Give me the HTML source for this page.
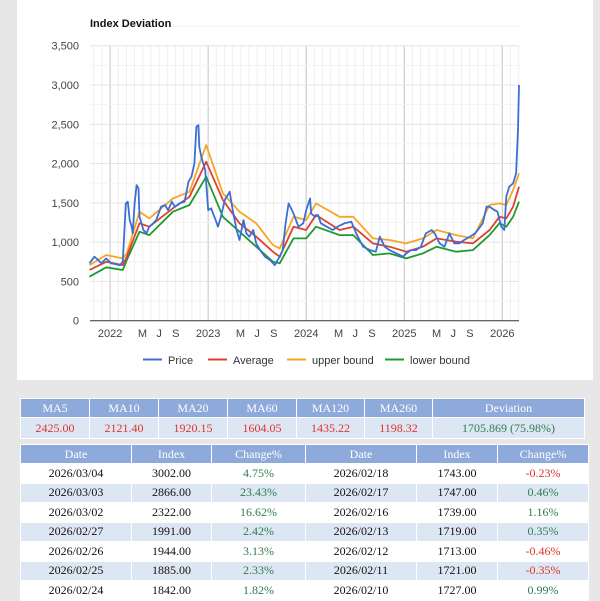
<!DOCTYPE html>
<html><head><meta charset="utf-8">
<style>
body{margin:0;width:600px;height:600px;background:#e7e7e7;overflow:hidden;font-family:"Liberation Sans",sans-serif;position:relative}
#panel{position:absolute;left:17px;top:0;width:576px;height:380px;background:#fff}
svg{position:absolute;left:0;top:0}
table{position:absolute;border-collapse:collapse;font-family:"Liberation Serif",serif;font-size:12px;text-align:center;table-layout:fixed}
td,th{padding:0;border:1px solid #fff}
th{background:#8eaadb;color:#fff;font-weight:normal;height:18px}
.red{color:#e2332b}.grn{color:#2e7d4f}
#ma{left:20px;top:398px;width:565px;border:1px solid #c9d8ec}
#ma td{background:#dde7f3;height:20px}
#hist{left:20px;top:444px;width:569px}
#hist td{height:18.5px;color:#111}
#hist td.red{color:#e2332b}
#hist td.grn{color:#2e7d4f}
#hist tbody tr:nth-child(even) td{background:#dde7f3}
#hist tbody tr:nth-child(odd) td{background:#fff}
</style></head><body>
<div id="panel"></div>
<svg id="chart" width="600" height="380"></svg>

<table id="ma">
<colgroup><col style="width:69px"><col style="width:69px"><col style="width:69px"><col style="width:69px"><col style="width:68px"><col style="width:68px"><col></colgroup>
<tr><th>MA5</th><th>MA10</th><th>MA20</th><th>MA60</th><th>MA120</th><th>MA260</th><th>Deviation</th></tr>
<tr><td class="red">2425.00</td><td class="red">2121.40</td><td class="red">1920.15</td><td class="red">1604.05</td><td class="red">1435.22</td><td class="red">1198.32</td><td class="grn">1705.869 (75.98%)</td></tr>
</table>

<table id="hist">
<colgroup><col style="width:111px"><col style="width:80px"><col style="width:94px"><col style="width:111px"><col style="width:81px"><col></colgroup>
<thead><tr><th>Date</th><th>Index</th><th>Change%</th><th>Date</th><th>Index</th><th>Change%</th></tr></thead>
<tbody>
<tr><td>2026/03/04</td><td>3002.00</td><td class="grn">4.75%</td><td>2026/02/18</td><td>1743.00</td><td class="red">-0.23%</td></tr>
<tr><td>2026/03/03</td><td>2866.00</td><td class="grn">23.43%</td><td>2026/02/17</td><td>1747.00</td><td class="grn">0.46%</td></tr>
<tr><td>2026/03/02</td><td>2322.00</td><td class="grn">16.62%</td><td>2026/02/16</td><td>1739.00</td><td class="grn">1.16%</td></tr>
<tr><td>2026/02/27</td><td>1991.00</td><td class="grn">2.42%</td><td>2026/02/13</td><td>1719.00</td><td class="grn">0.35%</td></tr>
<tr><td>2026/02/26</td><td>1944.00</td><td class="grn">3.13%</td><td>2026/02/12</td><td>1713.00</td><td class="red">-0.46%</td></tr>
<tr><td>2026/02/25</td><td>1885.00</td><td class="grn">2.33%</td><td>2026/02/11</td><td>1721.00</td><td class="red">-0.35%</td></tr>
<tr><td>2026/02/24</td><td>1842.00</td><td class="grn">1.82%</td><td>2026/02/10</td><td>1727.00</td><td class="grn">0.99%</td></tr>
</tbody></table>

<script>
const priceT=[2021.79,2021.84,2021.88,2021.91,2021.96,2022.01,2022.10,2022.13,2022.16,2022.18,2022.20,2022.22,2022.23,2022.25,2022.27,2022.29,2022.30,2022.34,2022.37,2022.40,2022.44,2022.47,2022.52,2022.56,2022.59,2022.63,2022.66,2022.71,2022.76,2022.80,2022.83,2022.86,2022.88,2022.90,2022.91,2022.93,2022.97,2023.00,2023.03,2023.07,2023.10,2023.13,2023.17,2023.22,2023.25,2023.29,2023.32,2023.36,2023.39,2023.42,2023.46,2023.49,2023.53,2023.58,2023.63,2023.68,2023.73,2023.76,2023.79,2023.82,2023.87,2023.92,2023.97,2024.00,2024.04,2024.05,2024.09,2024.12,2024.15,2024.21,2024.27,2024.32,2024.39,2024.46,2024.51,2024.58,2024.65,2024.71,2024.75,2024.80,2024.85,2024.92,2024.99,2025.02,2025.07,2025.12,2025.17,2025.22,2025.28,2025.31,2025.36,2025.41,2025.46,2025.51,2025.56,2025.61,2025.67,2025.72,2025.75,2025.80,2025.84,2025.87,2025.92,2025.95,2025.99,2026.02,2026.04,2026.07,2026.11,2026.14,2026.16,2026.17];
const priceV=[730,815,770,730,793,730,708,750,1493,1515,1281,1196,1111,1493,1726,1684,1323,1154,1111,1196,1239,1281,1451,1472,1408,1515,1451,1493,1515,1769,1833,2002,2469,2490,2214,2087,1918,1408,1430,1302,1196,1323,1536,1642,1408,1154,1027,1281,1111,1069,1154,984,899,815,772,708,815,899,1239,1493,1366,1196,1239,1408,1557,1366,1323,1345,1239,1196,1154,1196,1239,1260,1111,942,899,878,1069,942,899,857,815,857,899,899,942,1111,1154,1111,984,942,1111,984,984,1027,1069,1111,1154,1239,1451,1451,1408,1387,1196,1154,1578,1705,1748,1875,2427,3000];
const bandT=[2021.79,2021.96,2022.13,2022.17,2022.30,2022.40,2022.64,2022.81,2022.98,2023.15,2023.32,2023.49,2023.66,2023.73,2023.87,2024.00,2024.10,2024.34,2024.48,2024.68,2024.85,2025.02,2025.19,2025.33,2025.53,2025.70,2025.87,2025.97,2026.04,2026.11,2026.17];
const avgV=[645,750,708,815,1239,1196,1430,1578,2023,1536,1239,1069,878,815,1196,1154,1345,1154,1196,984,942,878,942,1048,1006,984,1154,1323,1302,1451,1705];
const upperV=[708,836,793,857,1387,1302,1557,1642,2235,1620,1387,1239,963,920,1323,1281,1493,1323,1323,1048,1027,984,1048,1154,1090,1048,1472,1493,1472,1663,1875];
const lowerV=[560,679,645,772,1133,1090,1387,1472,1833,1323,1133,942,751,730,1048,1048,1196,1090,1090,836,857,793,857,942,878,899,1090,1239,1196,1323,1514];
const yTicks=[0,500,1000,1500,2000,2500,3000,3500];
const xLabels=[["2022",2022],["M",2022.33],["J",2022.5],["S",2022.67],["2023",2023],["M",2023.33],["J",2023.5],["S",2023.67],["2024",2024],["M",2024.33],["J",2024.5],["S",2024.67],["2025",2025],["M",2025.33],["J",2025.5],["S",2025.67],["2026",2026]];

const NS="http://www.w3.org/2000/svg";
const svg=document.getElementById('chart');
const X0=90,X1=519,T0=2021.795,T1=2026.17,Y0=320.7,Y1=45.7;
const xs=t=>X0+(t-T0)/(T1-T0)*(X1-X0);
const ys=v=>Y0-v/3500*(Y0-Y1);
function mk(tag,attrs){const e=document.createElementNS(NS,tag);for(const k in attrs)e.setAttribute(k,attrs[k]);svg.appendChild(e);return e;}

for(let y=2021;y<=2026;y++)for(let m=0;m<12;m++){const t=y+m/12;if(t<T0||t>T1)continue;
 const g=mk('line',{x1:xs(t),x2:xs(t),y1:Y1,y2:Y0,stroke:m===0?'#d0d0d0':'#efefef','stroke-width':m===0?1.3:1});
 
 }
yTicks.forEach(v=>{
 const g=mk('line',{x1:X0,x2:X1,y1:ys(v),y2:ys(v),stroke:v===0?'#333':'#e4e4e4','stroke-width':1});
 
 
 if(v!==0){const h=mk('line',{x1:X0,x2:X1,y1:ys(v+250),y2:ys(v+250),stroke:'#f3f3f3'});}
 const tx=mk('text',{x:X0-11,y:ys(v)+4,'text-anchor':'end','font-size':'11',fill:'#444'});
 tx.textContent=v.toLocaleString('en-US');
 
 
});
{const h=mk('line',{x1:X0,x2:X1,y1:ys(250),y2:ys(250),stroke:'#f3f3f3'});}
xLabels.forEach(([l,t])=>{
 const tx=mk('text',{x:xs(t),y:337,'text-anchor':'middle','font-size':'11',fill:'#444'});
 tx.textContent=l;
 
 
});
function line(T,V,color,name){
 const d=T.map((t,i)=>(i?'L':'M')+xs(t).toFixed(1)+','+ys(V[i]).toFixed(1)).join('');
 const p=mk('path',{d:d,fill:'none',stroke:color,'stroke-width':1.8,'stroke-linejoin':'round'});
 
 
}
line(bandT,lowerV,'#1f9a2e','lower-bound-line');
line(bandT,upperV,'#f5a623','upper-bound-line');
line(bandT,avgV,'#e0412f','average-line');
line(priceT,priceV,'#3b6fd6','price-line');

const title=mk('text',{x:90,y:27,'font-size':'11','font-weight':'bold',fill:'#111'});
title.textContent='Index Deviation';



const leg=[['Price','#3b6fd6',143],['Average','#e0412f',208],['upper bound','#f5a623',287],['lower bound','#1f9a2e',385]];
leg.forEach(([l,c,x])=>{
 const g=document.createElementNS(NS,'g');svg.appendChild(g);
 
 
 const ln=document.createElementNS(NS,'line');
 ln.setAttribute('x1',x);ln.setAttribute('x2',x+19);ln.setAttribute('y1',359.5);ln.setAttribute('y2',359.5);
 ln.setAttribute('stroke',c);ln.setAttribute('stroke-width',2);g.appendChild(ln);
 const t=document.createElementNS(NS,'text');
 t.setAttribute('x',x+25);t.setAttribute('y',364);t.setAttribute('font-size','11');t.setAttribute('fill','#333');
 t.textContent=l;g.appendChild(t);
});
</script>
</body></html>
